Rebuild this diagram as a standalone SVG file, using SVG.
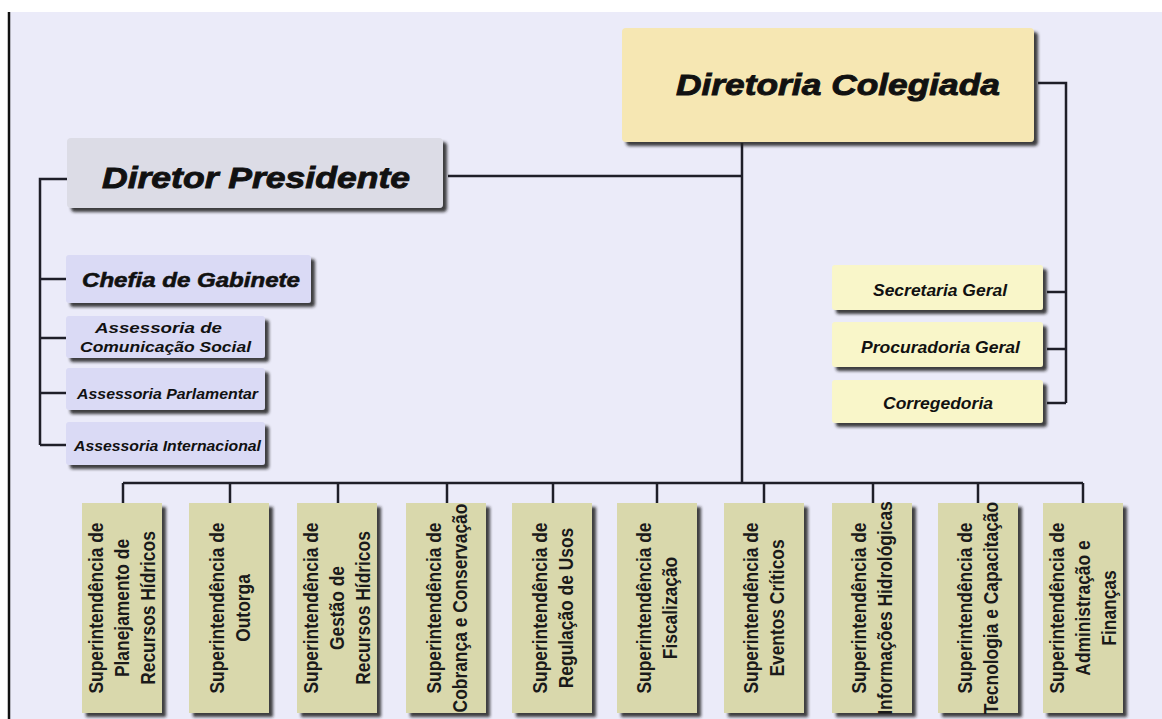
<svg xmlns="http://www.w3.org/2000/svg" width="1162" height="719" viewBox="0 0 1162 719">
<style>
.t{font-family:"Liberation Sans",Arial,sans-serif;font-weight:bold;font-style:italic;fill:#111;}
.h{stroke:#111;stroke-width:0.9;}
.v{font-family:"Liberation Sans",Arial,sans-serif;font-weight:bold;font-size:20px;fill:#1a1a1a;text-anchor:middle;}
.ln{stroke:#1e1e28;stroke-width:2.5;fill:none;}
.dp{fill:#dcdce6;}
.lv{fill:#dadaf5;}
.dc{fill:#f6e7b3;}
.yl{fill:#f9f6c9;}
.kh{fill:#d9d8ac;}
</style>
<defs>
<filter id="sh" x="-10%" y="-10%" width="130%" height="130%">
<feDropShadow dx="4" dy="4" stdDeviation="1.5" flood-color="#222" flood-opacity="0.85"/>
</filter>
</defs>
<rect x="0" y="0" width="1162" height="719" fill="#ffffff"/>
<rect x="10" y="12" width="1152" height="707" fill="#ebebf9"/>
<line x1="9" y1="12" x2="9" y2="719" stroke="#111" stroke-width="2.5"/>

<g id="connectors">
<polyline class="ln" points="67,179 40,179 40,445"/>
<line class="ln" x1="40" y1="279" x2="66" y2="279"/>
<line class="ln" x1="40" y1="338" x2="66" y2="338"/>
<line class="ln" x1="40" y1="393" x2="66" y2="393"/>
<line class="ln" x1="40" y1="445" x2="66" y2="445"/>
<line class="ln" x1="448" y1="176" x2="742" y2="176"/>
<line class="ln" x1="742" y1="143" x2="742" y2="483"/>
<polyline class="ln" points="1038,83 1066,83 1066,403"/>
<line class="ln" x1="1047" y1="292" x2="1066" y2="292"/>
<line class="ln" x1="1047" y1="349" x2="1066" y2="349"/>
<line class="ln" x1="1047" y1="403" x2="1066" y2="403"/>
<line class="ln" x1="123" y1="483" x2="1083" y2="483"/>
<line class="ln" x1="123" y1="483" x2="123" y2="503"/>
<line class="ln" x1="230" y1="483" x2="230" y2="503"/>
<line class="ln" x1="338" y1="483" x2="338" y2="503"/>
<line class="ln" x1="447" y1="483" x2="447" y2="503"/>
<line class="ln" x1="553" y1="483" x2="553" y2="503"/>
<line class="ln" x1="657" y1="483" x2="657" y2="503"/>
<line class="ln" x1="764" y1="483" x2="764" y2="503"/>
<line class="ln" x1="873" y1="483" x2="873" y2="503"/>
<line class="ln" x1="978" y1="483" x2="978" y2="503"/>
<line class="ln" x1="1083" y1="483" x2="1083" y2="503"/>
</g>

<g id="diretoria-colegiada">
<rect class="dc" x="622" y="28" width="412" height="114" rx="4" filter="url(#sh)"/>
<text class="t h" x="676" y="95" font-size="30" textLength="324" lengthAdjust="spacingAndGlyphs">Diretoria Colegiada</text>
</g>

<g id="diretor-presidente">
<rect class="dp" x="67" y="138" width="376" height="70" rx="4" filter="url(#sh)"/>
<text class="t h" x="102" y="188" font-size="30" textLength="308" lengthAdjust="spacingAndGlyphs">Diretor Presidente</text>
</g>

<g id="chefia-gabinete">
<rect class="lv" x="66" y="255" width="245" height="48" rx="3" filter="url(#sh)"/>
<text class="t h" x="82" y="287" font-size="21" textLength="218" lengthAdjust="spacingAndGlyphs" style="stroke-width:0.6">Chefia de Gabinete</text>
</g>
<g id="assessoria-comunicacao">
<rect class="lv" x="66" y="316" width="199" height="42" rx="3" filter="url(#sh)"/>
<text class="t" x="95" y="333" font-size="15" textLength="127" lengthAdjust="spacingAndGlyphs">Assessoria de</text>
<text class="t" x="80" y="352" font-size="15" textLength="171" lengthAdjust="spacingAndGlyphs">Comunicação Social</text>
</g>
<g id="assessoria-parlamentar">
<rect class="lv" x="66" y="368" width="199" height="42" rx="3" filter="url(#sh)"/>
<text class="t" x="77" y="399" font-size="15" textLength="181" lengthAdjust="spacingAndGlyphs">Assessoria Parlamentar</text>
</g>
<g id="assessoria-internacional">
<rect class="lv" x="66" y="422" width="199" height="43" rx="3" filter="url(#sh)"/>
<text class="t" x="74" y="451" font-size="15" textLength="187" lengthAdjust="spacingAndGlyphs">Assessoria Internacional</text>
</g>

<g id="secretaria-geral">
<rect class="yl" x="832" y="265" width="211" height="45" rx="3" filter="url(#sh)"/>
<text class="t" x="873" y="296" font-size="17" textLength="134" lengthAdjust="spacingAndGlyphs">Secretaria Geral</text>
</g>
<g id="procuradoria-geral">
<rect class="yl" x="832" y="322" width="211" height="45" rx="3" filter="url(#sh)"/>
<text class="t" x="861" y="353" font-size="17" textLength="159" lengthAdjust="spacingAndGlyphs">Procuradoria Geral</text>
</g>
<g id="corregedoria">
<rect class="yl" x="832" y="380" width="211" height="43" rx="3" filter="url(#sh)"/>
<text class="t" x="883" y="409" font-size="17" textLength="110" lengthAdjust="spacingAndGlyphs">Corregedoria</text>
</g>

<g id="sup-planejamento">
<rect class="kh" x="82" y="503" width="80" height="210" filter="url(#sh)"/>
<text class="v" transform="translate(103,608) rotate(-90) scale(0.87,1)">Superintendência de</text>
<text class="v" transform="translate(129,608) rotate(-90) scale(0.87,1)">Planejamento de</text>
<text class="v" transform="translate(155,608) rotate(-90) scale(0.87,1)">Recursos Hídricos</text>
</g>
<g id="sup-outorga">
<rect class="kh" x="189" y="503" width="80" height="210" filter="url(#sh)"/>
<text class="v" transform="translate(224,608) rotate(-90) scale(0.87,1)">Superintendência de</text>
<text class="v" transform="translate(250,608) rotate(-90) scale(0.87,1)">Outorga</text>
</g>
<g id="sup-gestao">
<rect class="kh" x="297" y="503" width="80" height="210" filter="url(#sh)"/>
<text class="v" transform="translate(318,608) rotate(-90) scale(0.87,1)">Superintendência de</text>
<text class="v" transform="translate(344,608) rotate(-90) scale(0.87,1)">Gestão de</text>
<text class="v" transform="translate(370,608) rotate(-90) scale(0.87,1)">Recursos Hídricos</text>
</g>
<g id="sup-cobranca">
<rect class="kh" x="406" y="503" width="80" height="210" filter="url(#sh)"/>
<text class="v" transform="translate(441,608) rotate(-90) scale(0.87,1)">Superintendência de</text>
<text class="v" transform="translate(467,608) rotate(-90) scale(0.87,1)">Cobrança e Conservação</text>
</g>
<g id="sup-regulacao">
<rect class="kh" x="512" y="503" width="80" height="210" filter="url(#sh)"/>
<text class="v" transform="translate(547,608) rotate(-90) scale(0.87,1)">Superintendência de</text>
<text class="v" transform="translate(573,608) rotate(-90) scale(0.87,1)">Regulação de Usos</text>
</g>
<g id="sup-fiscalizacao">
<rect class="kh" x="617" y="503" width="80" height="210" filter="url(#sh)"/>
<text class="v" transform="translate(651,608) rotate(-90) scale(0.87,1)">Superintendência de</text>
<text class="v" transform="translate(677,608) rotate(-90) scale(0.87,1)">Fiscalização</text>
</g>
<g id="sup-eventos">
<rect class="kh" x="724" y="503" width="80" height="210" filter="url(#sh)"/>
<text class="v" transform="translate(758,608) rotate(-90) scale(0.87,1)">Superintendência de</text>
<text class="v" transform="translate(784,608) rotate(-90) scale(0.87,1)">Eventos Críticos</text>
</g>
<g id="sup-informacoes">
<rect class="kh" x="832" y="503" width="80" height="210" filter="url(#sh)"/>
<text class="v" transform="translate(866,608) rotate(-90) scale(0.87,1)">Superintendência de</text>
<text class="v" transform="translate(892,608) rotate(-90) scale(0.87,1)">Informações Hidrológicas</text>
</g>
<g id="sup-tecnologia">
<rect class="kh" x="938" y="503" width="80" height="210" filter="url(#sh)"/>
<text class="v" transform="translate(972,608) rotate(-90) scale(0.87,1)">Superintendência de</text>
<text class="v" transform="translate(998,608) rotate(-90) scale(0.87,1)">Tecnologia e Capacitação</text>
</g>
<g id="sup-administracao">
<rect class="kh" x="1043" y="503" width="80" height="210" filter="url(#sh)"/>
<text class="v" transform="translate(1064,608) rotate(-90) scale(0.87,1)">Superintendência de</text>
<text class="v" transform="translate(1090,608) rotate(-90) scale(0.87,1)">Administração e</text>
<text class="v" transform="translate(1116,608) rotate(-90) scale(0.87,1)">Finanças</text>
</g>
</svg>
